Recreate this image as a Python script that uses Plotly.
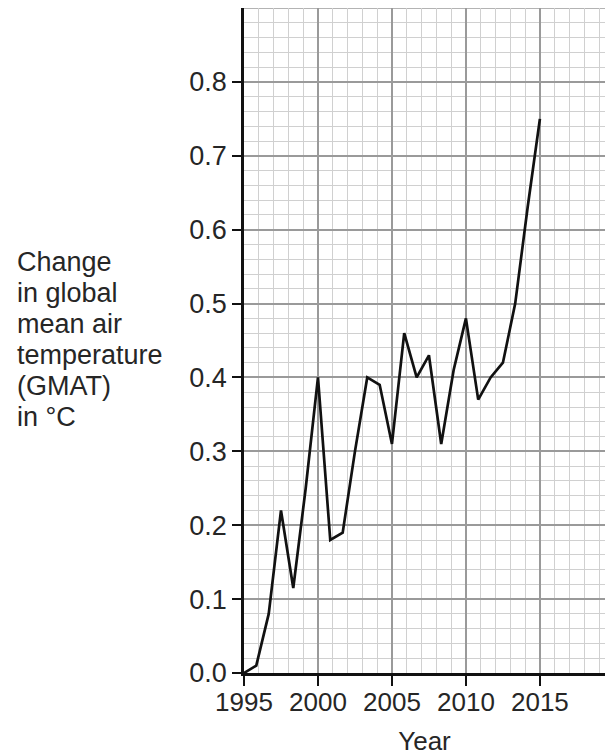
import plotly.graph_objects as go

years = [1995.0, 1995.83, 1996.67, 1997.5, 1998.33, 1999.17, 2000.0, 2000.83,
         2001.67, 2002.5, 2003.33, 2004.17, 2005.0, 2005.83, 2006.67, 2007.5,
         2008.33, 2009.17, 2010.0, 2010.83, 2011.67, 2012.5, 2013.33, 2014.17, 2015.0]
gmat = [0.0, 0.01, 0.08, 0.22, 0.115, 0.25, 0.40, 0.18,
        0.19, 0.30, 0.40, 0.39, 0.31, 0.46, 0.40, 0.43,
        0.31, 0.41, 0.48, 0.37, 0.40, 0.42, 0.50, 0.63, 0.75]

x_ticks = [1995, 2000, 2005, 2010, 2015]
y_ticks = [0.0, 0.1, 0.2, 0.3, 0.4, 0.5, 0.6, 0.7, 0.8]
y_tick_labels = ["0.0", "0.1", "0.2", "0.3", "0.4", "0.5", "0.6", "0.7", "0.8"]
y_title_lines = ["Change", "in global", "mean air", "temperature", "(GMAT)", "in °C"]

FONT = "Liberation Sans, Arial, sans-serif"
TXT = "#262626"

L, T, B = 244, 8, 83
W, H = 605, 756
plot_h = H - T - B

fig = go.Figure()
fig.add_trace(go.Scatter(x=years, y=gmat, mode="lines",
                         line=dict(color="#111111", width=2.7),
                         showlegend=False, hoverinfo="skip"))

fig.update_layout(
    width=W, height=H,
    margin=dict(l=L, r=0, t=T, b=B),
    paper_bgcolor="white", plot_bgcolor="white",
    font=dict(family=FONT, size=26, color=TXT),
    xaxis=dict(
        range=[1995, 2019.4], tickvals=x_ticks, ticktext=[str(v) for v in x_ticks],
        showgrid=True, gridcolor="#9a9a9a", gridwidth=1.5,
        minor=dict(dtick=1, tick0=1995, showgrid=True, gridcolor="#d0d0d0", gridwidth=1.2),
        showline=True, linecolor="#111111", linewidth=2.5,
        ticks="outside", ticklen=10, tickwidth=2, tickcolor="#111111",
        ticklabelstandoff=-6,
        tickfont=dict(size=26, family=FONT, color=TXT),
        title=dict(text="Year", font=dict(size=26, family=FONT, color=TXT), standoff=18),
        zeroline=False, fixedrange=True,
    ),
    yaxis=dict(
        range=[0, 0.9], tickvals=y_ticks, ticktext=y_tick_labels,
        showgrid=True, gridcolor="#9a9a9a", gridwidth=1.5,
        minor=dict(dtick=0.02, tick0=0, showgrid=True, gridcolor="#d0d0d0", gridwidth=1.2),
        showline=True, linecolor="#111111", linewidth=2.5,
        ticks="outside", ticklen=9, tickwidth=2, tickcolor="#111111",
        tickfont=dict(size=27, family=FONT, color=TXT),
        zeroline=False, fixedrange=True,
    ),
)

fig.add_shape(type="line", xref="paper", yref="y", x0=0, x1=1, y0=0.9, y1=0.9,
              line=dict(color="#9a9a9a", width=1.5), layer="below")

# y-axis title: one line per annotation, 31 px apart, starting at pixel y=262
for i, line in enumerate(y_title_lines):
    py = 262 + 31 * i
    fig.add_annotation(
        xref="paper", yref="paper", x=(15 - L) / (W - L), y=(H - B - py) / plot_h,
        xanchor="left", yanchor="middle", text=line, align="left", showarrow=False,
        font=dict(size=27, family=FONT, color=TXT),
    )

fig.write_html("out.html", config={"displayModeBar": False},
               post_script="document.body.style.margin='0px';document.body.style.overflow='hidden';")
